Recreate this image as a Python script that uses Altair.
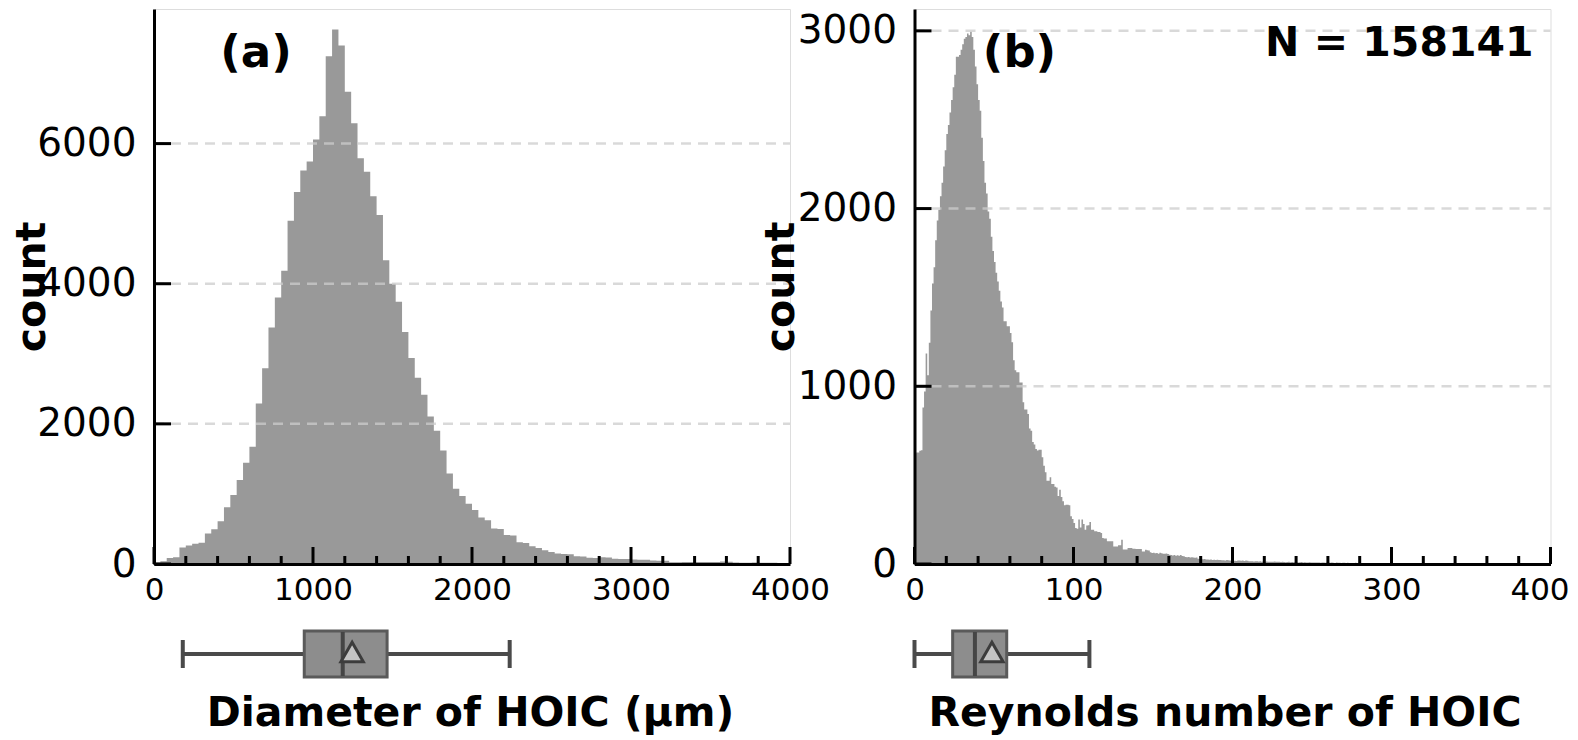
import altair as alt
import pandas as pd

FONT = "DejaVu Sans"
W = 636
H = 555

# ---- data ----
diam_bin_width = 40
diam_counts = [
    20, 40, 85, 95, 235, 265, 290, 305, 435, 495,
    610, 810, 985, 1200, 1445, 1675, 2290, 2795, 3375, 3805,
    4185, 4900, 5310, 5615, 5745, 6060, 6390, 7245, 7630, 7400,
    6740, 6290, 5790, 5600, 5250, 4980, 4336, 4000, 3742, 3312,
    2940, 2658, 2416, 2104, 1901, 1619, 1290, 1075, 970, 860,
    770, 665, 625, 505, 500, 415, 405, 310, 300, 253,
    229, 196, 172, 150, 143, 140, 112, 108, 88, 85,
    96, 94, 74, 72, 70, 64, 62, 60, 50, 48,
    46, 26, 24, 28, 29, 30, 28, 29, 30, 34,
    32, 20, 19, 18, 20, 19, 18, 17, 16, 15,
]

re_bin_width = 1
re_counts = [
    620, 627, 627, 637, 640, 880, 970, 1184, 1062, 1245,
    1427, 1579, 1670, 1822, 1933, 1994, 2070, 2145, 2237, 2328,
    2419, 2470, 2540, 2611, 2682, 2753, 2854, 2854, 2864, 2894,
    2925, 2955, 2965, 2985, 2975, 2995, 2965, 2894, 2800, 2700,
    2611, 2550, 2398, 2267, 2145, 2085, 1984, 1943, 1842, 1761,
    1700, 1639, 1589, 1538, 1477, 1444, 1366, 1366, 1338, 1338,
    1300, 1248, 1146, 1090, 1079, 1079, 1022, 1022, 910, 869,
    869, 844, 762, 750, 687, 672, 647, 638, 643, 643,
    600, 553, 516, 469, 469, 488, 450, 450, 435, 431,
    383, 418, 377, 353, 330, 334, 334, 330, 268, 253,
    231, 203, 199, 250, 206, 250, 225, 193, 216, 218,
    236, 193, 193, 184, 184, 180, 180, 174, 146, 143,
    143, 128, 128, 128, 128, 99, 99, 99, 105, 105,
    137, 81, 81, 81, 90, 90, 90, 86, 86, 84,
    84, 84, 84, 71, 71, 80, 78, 76, 66, 62,
    64, 60, 62, 58, 63, 60, 57, 58, 59, 56,
    52, 50, 48, 51, 47, 49, 46, 50, 45, 44,
    40, 38, 39, 36, 38, 37, 35, 36, 30, 28,
    29, 27, 28, 26, 25, 24, 25, 23, 24, 22,
    24, 23, 22, 21, 21, 20, 22, 21, 20, 18,
    17, 18, 17, 19, 20, 18, 19, 17, 19, 18,
    16, 15, 16, 14, 15, 16, 14, 15, 13, 15,
    13, 14, 12, 13, 12, 13, 14, 12, 13, 12,
    11, 12, 11, 10, 11, 12, 10, 11, 10, 11,
    10, 9, 10, 11, 9, 10, 9, 8, 10, 9,
    8, 9, 8, 9, 8, 7, 9, 8, 7, 8,
    8, 7, 8, 7, 6, 8, 7, 7, 6, 7,
    7, 6, 7, 6, 6, 5, 6, 7, 5, 6,
    6, 5, 6, 5, 6, 5, 5, 6, 4, 5,
    5, 4, 5, 4, 5, 4, 4, 5, 4, 4,
    4, 3, 4, 4, 3, 4, 3, 4, 3, 3,
    4, 3, 3, 4, 3, 3, 4, 3, 3, 3,
    3, 3, 2, 3, 3, 2, 3, 3, 2, 3,
    2, 3, 2, 2, 3, 2, 2, 3, 2, 2,
    2, 2, 3, 2, 2, 2, 2, 2, 2, 2,
    2, 2, 2, 1, 2, 2, 2, 1, 2, 2,
    2, 1, 2, 2, 1, 2, 1, 2, 2, 1,
    1, 2, 1, 2, 1, 1, 2, 1, 1, 2,
    1, 1, 2, 1, 1, 1, 2, 1, 1, 1,
    1, 1, 1, 2, 1, 1, 1, 1, 1, 1,
]

# box-plot summaries: low whisker, Q1, median, Q3, high whisker, mean
diam_box = [181, 945, 1187, 1466, 2237, 1246]
re_box = [0, 24, 38, 58, 110, 48.7]

diam_x_major = [0, 1000, 2000, 3000, 4000]
diam_x_minor = [200, 400, 600, 800, 1200, 1400, 1600, 1800, 2200, 2400, 2600, 2800,
                3200, 3400, 3600, 3800]
diam_y_major = [0, 2000, 4000, 6000]
re_x_major = [0, 100, 200, 300, 400]
re_x_minor = [20, 40, 60, 80, 120, 140, 160, 180, 220, 240, 260, 280, 320, 340, 360, 380]
re_y_major = [0, 1000, 2000, 3000]

BOX_TOP, BOX_BOT, WHISK_Y = 622, 668, 645
CAP_TOP, CAP_BOT = 631, 659


def panel(counts, bw, xmax, ymax, xmaj, xmin, ymaj, box, xtitle, title_x, ytitle_x,
          tag, tag_x, note=None, last_label_shift=0):
    n = len(counts)
    hist = pd.DataFrame({"start": [i * bw for i in range(n)] + [n * bw],
                         "count": list(counts) + [counts[-1]]})
    xs = alt.Scale(domain=[0, xmax], nice=False, zero=False)
    ys = alt.Scale(domain=[0, ymax], nice=False)
    label_offset = 0
    if last_label_shift:
        label_offset = {"condition": {"test": f"datum.value == {xmax}", "value": last_label_shift},
                        "value": 0}
    xaxis = alt.Axis(values=xmaj, format="d", ticks=False, grid=False,
                     domainColor="black", domainWidth=3, labelFont=FONT, labelFontSize=31,
                     labelColor="black", labelPadding=11, labelFlush=False,
                     labelOffset=label_offset,
                     title=xtitle, titleFont=FONT, titleFontSize=41, titleFontWeight="bold",
                     titleColor="black", titleX=title_x, titleY=161, titleBaseline="alphabetic",
                     zindex=1)
    yaxis = alt.Axis(values=ymaj, format="d", ticks=False, grid=False,
                     domainColor="black", domainWidth=3, labelFont=FONT, labelFontSize=39,
                     labelColor="black", labelPadding=18, labelFlush=False,
                     title="count", titleFont=FONT, titleFontSize=41, titleFontWeight="bold",
                     titleColor="black", titleX=ytitle_x, titleBaseline="alphabetic", zindex=1)

    def X(f):
        return alt.X(f, scale=xs, axis=xaxis)

    def Y(f):
        return alt.Y(f, scale=ys, axis=yaxis)

    area = alt.Chart(hist).mark_area(interpolate="step-after", color="#999999", opacity=1,
                                     clip=True).encode(x=X("start:Q"), y=Y("count:Q"))
    grid = alt.Chart(pd.DataFrame({"v": [v for v in ymaj if v > 0]})).mark_rule(
        color="#cccccc", opacity=0.75, strokeWidth=2.5, strokeDash=[10, 7]).encode(
        y=Y("v:Q"), x=alt.value(0), x2=alt.value(W))
    xt1 = alt.Chart(pd.DataFrame({"v": xmaj})).mark_rule(color="black", strokeWidth=3).encode(
        x=X("v:Q"), y=alt.value(H), y2=alt.value(H - 17))
    xt2 = alt.Chart(pd.DataFrame({"v": xmin})).mark_rule(color="black", strokeWidth=3).encode(
        x=X("v:Q"), y=alt.value(H), y2=alt.value(H - 8))
    yt = alt.Chart(pd.DataFrame({"v": ymaj})).mark_rule(color="black", strokeWidth=3).encode(
        y=Y("v:Q"), x=alt.value(0), x2=alt.value(17))

    lo, q1, med, q3, hi, mean = box
    whisk = alt.Chart(pd.DataFrame({"v": [lo, q3], "b": [q1, hi]})).mark_rule(
        color="#4a4a4a", strokeWidth=4).encode(x=X("v:Q"), x2="b:Q", y=alt.value(WHISK_Y))
    caps = alt.Chart(pd.DataFrame({"v": [lo, hi]})).mark_rule(
        color="#4a4a4a", strokeWidth=4).encode(
        x=X("v:Q"), y=alt.value(CAP_TOP), y2=alt.value(CAP_BOT))
    rect = alt.Chart(pd.DataFrame({"v": [q1], "b": [q3]})).mark_rect(
        fill="#8d8d8d", stroke="#5a5a5a", strokeWidth=3).encode(
        x=X("v:Q"), x2="b:Q", y=alt.value(BOX_TOP), y2=alt.value(BOX_BOT))
    median = alt.Chart(pd.DataFrame({"v": [med]})).mark_rule(
        color="#454545", strokeWidth=4).encode(
        x=X("v:Q"), y=alt.value(BOX_TOP + 1), y2=alt.value(BOX_BOT - 1))
    meanpt = alt.Chart(pd.DataFrame({"v": [mean]})).mark_point(
        shape="triangle-up", filled=True, fill="#c4c4c4", stroke="#3c3c3c", strokeWidth=3,
        size=500, opacity=1).encode(x=X("v:Q"), y=alt.value(643))
    tagtxt = alt.Chart(pd.DataFrame({"t": [tag]})).mark_text(
        font=FONT, fontSize=45, fontWeight="bold", color="black", align="center",
        baseline="middle").encode(text="t:N", x=alt.value(tag_x), y=alt.value(44))
    layers = [area, grid, xt1, xt2, yt, whisk, caps, rect, median, meanpt, tagtxt]
    if note:
        layers.append(alt.Chart(pd.DataFrame({"t": [note]})).mark_text(
            font=FONT, fontSize=41, fontWeight="bold", color="black", align="right",
            baseline="alphabetic").encode(text="t:N", x=alt.value(619), y=alt.value(47)))
    return alt.layer(*layers).properties(width=W, height=H)


left = panel(diam_counts, diam_bin_width, 4000, 7921, diam_x_major, diam_x_minor, diam_y_major,
             diam_box, "Diameter of HOIC (µm)", 316, -110, "(a)", 102)
right = panel(re_counts, re_bin_width, 400, 3123, re_x_major, re_x_minor, re_y_major,
              re_box, "Reynolds number of HOIC", 310, -121, "(b)", 105, note="N = 158141",
              last_label_shift=-11)

chart = alt.hconcat(left, right, spacing=124.5, bounds="flush").properties(
    padding={"left": 2, "top": 0, "right": -1, "bottom": 6},
    background="white",
).configure_view(stroke="transparent", strokeWidth=0).configure(font=FONT)

chart.save("out.html", embed_options={"renderer": "svg", "actions": False})
